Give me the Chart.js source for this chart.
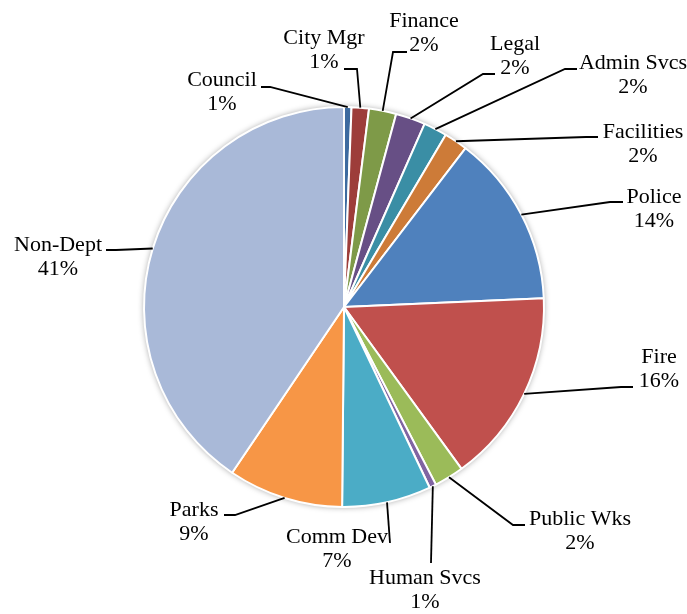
<!DOCTYPE html>
<html>
<head>
<meta charset="utf-8">
<script src="https://cdn.jsdelivr.net/npm/chart.js@4.4.0/dist/chart.umd.min.js"></script>
<style>
html, body { margin: 0; padding: 0; background: #fff; }
#wrap { position: relative; width: 687px; height: 614px; }
</style>
</head>
<body>
<div id="wrap"><canvas id="budget"></canvas></div>
<script>
var departments = ['Council', 'City Mgr', 'Finance', 'Legal', 'Admin Svcs', 'Facilities',
	'Police', 'Fire', 'Public Wks', 'Human Svcs', 'Comm Dev', 'Parks', 'Non-Dept'];
var shares = [0.6, 1.4, 2.2, 2.4, 1.9, 1.9, 13.9, 15.7, 2.4, 0.55, 7.2, 9.3, 40.55];

var sliceColors = ['#3d6a9f', '#9d3d3a', '#7e9a48', '#674f85', '#3a8ea5', '#cd7b38',
	'#4f81bd', '#c0504d', '#9bbb59', '#8064a2', '#4bacc6', '#f79646', '#a9b9d8'];

// per label, relative to pie centre: text x, first line y, leader attach x, y, elbow length
var labelLayout = [
	[-122, -227, -83, -220, 9],
	[-20, -269, 0, -238, 13],
	[80, -286, 63, -255, -14],
	[171, -263, 151, -233, -12],
	[289, -244, 233, -238, -12],
	[299, -175, 254, -170, -12],
	[310, -110, 279, -105, -13],
	[315, 50, 289, 80, -12],
	[236, 212, 181, 218, -12],
	[81, 271, 87, 256, 0],
	[-7, 230, 46, 236, 0],
	[-150, 203, -120, 208, 11],
	[-286, -62, -238, -57, 10]
];

var total = shares.reduce(function(a, b) { return a + b; }, 0);

var outsideLabels = {
	id: 'outsideLabels',
	beforeDatasetsDraw: function(chart) {
		// soft shadow under the pie
		var arc = chart.getDatasetMeta(0).data[0];
		var ctx = chart.ctx;
		ctx.save();
		ctx.shadowColor = 'rgba(0,0,0,0.4)';
		ctx.shadowBlur = 6;
		ctx.fillStyle = '#fff';
		ctx.beginPath();
		ctx.arc(arc.x, arc.y, arc.outerRadius, 0, Math.PI * 2);
		ctx.fill();
		ctx.restore();
	},
	afterDatasetsDraw: function(chart) {
		var ctx = chart.ctx;
		var meta = chart.getDatasetMeta(0);
		ctx.save();
		ctx.strokeStyle = '#000';
		ctx.lineWidth = 1.8;
		ctx.fillStyle = '#000';
		ctx.font = '22px "Liberation Serif", serif';
		ctx.textAlign = 'center';
		ctx.textBaseline = 'middle';
		meta.data.forEach(function(arc, i) {
			var p = arc.getProps(['x', 'y', 'startAngle', 'endAngle', 'outerRadius'], true);
			var mid = (p.startAngle + p.endAngle) / 2;
			var ex = p.x + Math.cos(mid) * p.outerRadius;
			var ey = p.y + Math.sin(mid) * p.outerRadius;
			var L = labelLayout[i];
			var ax = p.x + L[2], ay = p.y + L[3];
			ctx.beginPath();
			ctx.moveTo(ax, ay);
			ctx.lineTo(ax + L[4], ay);
			ctx.lineTo(ex, ey);
			ctx.stroke();
			var pct = Math.round(shares[i] / total * 100) + '%';
			ctx.fillText(departments[i], p.x + L[0], p.y + L[1]);
			ctx.fillText(pct, p.x + L[0], p.y + L[1] + 24.5);
		});
		ctx.restore();
	}
};

var config = {
	type: 'pie',
	data: {
		labels: departments,
		datasets: [{
			data: shares,
			backgroundColor: sliceColors,
			borderColor: '#fff',
			borderWidth: 2,
			radius: 200
		}]
	},
	options: {
		responsive: true,
		maintainAspectRatio: false,
		animation: false,
		layout: { padding: { left: 1 } },
		plugins: {
			legend: { display: false },
			tooltip: { enabled: false }
		}
	},
	plugins: [outsideLabels]
};

window.onload = function() {
	var ctx = document.getElementById('budget').getContext('2d');
	window.budgetPie = new Chart(ctx, config);
};
</script>
</body>
</html>
